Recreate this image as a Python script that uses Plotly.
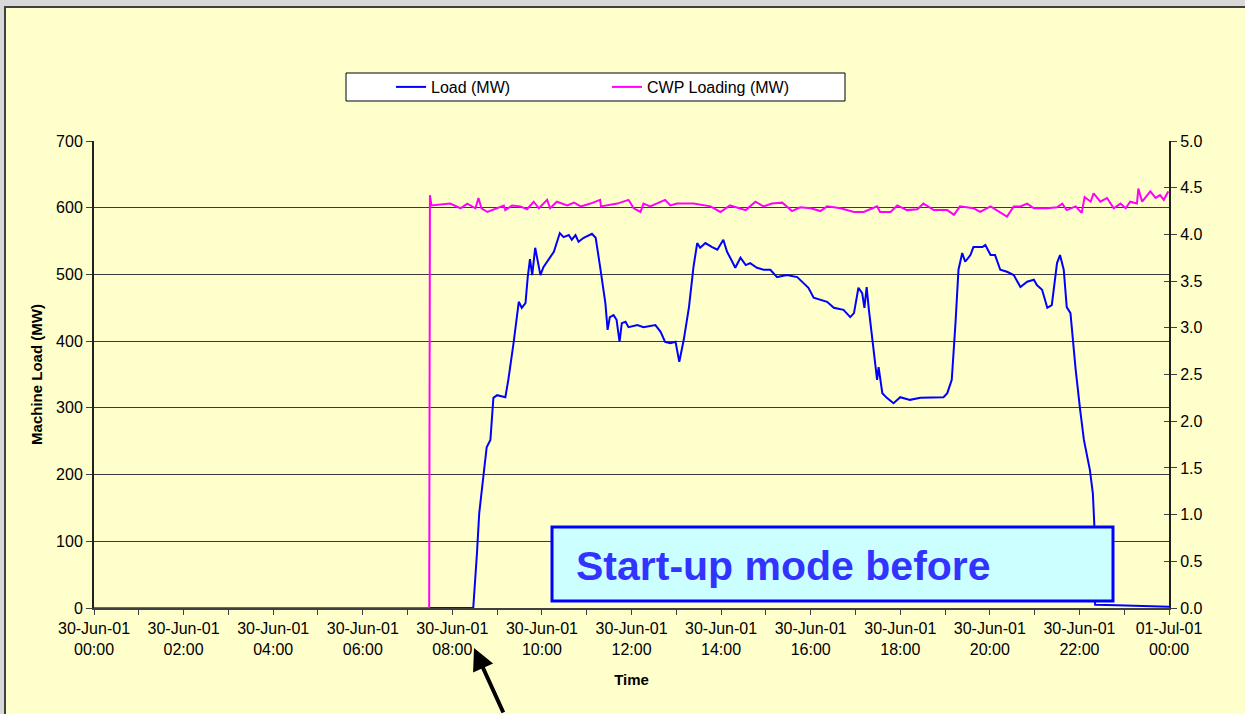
import pandas as pd
import plotly.graph_objects as go

# ---------------- data ----------------
LOAD_TIMES = [
    "00:00", "08:28", "08:33", "08:36", "08:46", "08:51", "08:55", "09:00", "09:11", "09:15",
    "09:22", "09:29", "09:33", "09:38", "09:41", "09:44", "09:47", "09:51", "09:58", "10:02",
    "10:16", "10:24", "10:29", "10:36", "10:40", "10:45", "10:49", "10:56", "11:07", "11:12",
    "11:18", "11:25", "11:28", "11:31", "11:36", "11:40", "11:44", "11:47", "11:52", "11:56",
    "12:08", "12:16", "12:32", "12:39", "12:45", "12:52", "12:59", "13:04", "13:10", "13:17",
    "13:23", "13:28", "13:32", "13:39", "13:48", "13:55", "14:03", "14:08", "14:15", "14:19",
    "14:26", "14:33", "14:39", "14:48", "14:57", "15:06", "15:15", "15:28", "15:42", "15:51",
    "15:57", "16:04", "16:13", "16:22", "16:31", "16:44", "16:53", "16:58", "17:04", "17:09",
    "17:12", "17:15", "17:18", "17:22", "17:27", "17:29", "17:31", "17:36", "17:42", "17:51",
    "18:00", "18:13", "18:27", "18:45", "18:58", "19:03", "19:09", "19:14", "19:18", "19:23",
    "19:27", "19:34", "19:38", "19:50", "19:54", "20:01", "20:07", "20:14", "20:23", "20:32",
    "20:41", "20:50", "20:59", "21:03", "21:10", "21:17", "21:23", "21:30", "21:34", "21:39",
    "21:43", "21:48", "21:55", "22:01", "22:06", "22:14", "22:18", "22:20", "22:21", "22:50",
    "23:22", "23:55", "24:00",
]
LOAD_MW = [
    0, 0, 82, 142, 241, 252, 315, 319, 316, 342,
    397, 459, 450, 457, 496, 523, 499, 540, 499, 511,
    534, 562, 556, 559, 552, 559, 549, 555, 561, 555,
    511, 457, 417, 436, 439, 432, 399, 427, 429, 421,
    424, 421, 424, 414, 399, 397, 399, 369, 402, 451,
    511, 547, 540, 547, 541, 537, 552, 534, 519, 510,
    525, 514, 517, 510, 507, 507, 496, 499, 496, 487,
    480, 465, 462, 459, 450, 447, 436, 442, 480, 472,
    450, 481, 447, 406, 361, 342, 361, 322, 315, 307,
    316, 312, 315, 315, 316, 322, 342, 427, 507, 532,
    519, 529, 541, 541, 544, 529, 529, 507, 504, 499,
    481, 489, 492, 484, 477, 450, 454, 517, 529, 507,
    451, 442, 357, 297, 252, 207, 172, 124, 5, 4,
    3, 2, 2,
]

CWP_TIMES = [
    "00:00", "07:29", "07:30", "07:32", "07:57", "08:11", "08:20", "08:31", "08:35", "08:39",
    "08:47", "09:00", "09:09", "09:11", "09:20", "09:31", "09:40", "09:49", "09:56", "10:07",
    "10:11", "10:20", "10:34", "10:43", "10:52", "11:05", "11:18", "11:19", "11:41", "11:56",
    "12:03", "12:12", "12:16", "12:25", "12:34", "12:45", "12:52", "13:01", "13:23", "13:46",
    "13:59", "14:12", "14:33", "14:46", "14:57", "15:08", "15:22", "15:35", "15:46", "16:00",
    "16:13", "16:22", "16:40", "16:58", "17:11", "17:29", "17:33", "17:47", "17:56", "18:09",
    "18:23", "18:31", "18:45", "19:03", "19:12", "19:20", "19:38", "19:47", "20:01", "20:14",
    "20:23", "20:32", "20:41", "20:50", "20:59", "21:17", "21:30", "21:37", "21:43", "21:55",
    "22:03", "22:07", "22:15", "22:19", "22:28", "22:37", "22:46", "22:55", "23:02", "23:08",
    "23:17", "23:19", "23:24", "23:35", "23:42", "23:48", "23:53", "23:59",
]
CWP_MW = [
    0.0, 0.0, 4.42, 4.31, 4.33, 4.28, 4.33, 4.28, 4.39, 4.28,
    4.24, 4.28, 4.31, 4.26, 4.31, 4.30, 4.27, 4.35, 4.28, 4.37,
    4.28, 4.35, 4.31, 4.34, 4.30, 4.33, 4.37, 4.30, 4.33, 4.37,
    4.28, 4.24, 4.33, 4.30, 4.33, 4.37, 4.31, 4.33, 4.33, 4.30,
    4.24, 4.31, 4.26, 4.35, 4.30, 4.33, 4.34, 4.25, 4.29, 4.28,
    4.25, 4.30, 4.28, 4.24, 4.24, 4.30, 4.24, 4.24, 4.31, 4.26,
    4.27, 4.33, 4.26, 4.26, 4.21, 4.30, 4.28, 4.24, 4.30, 4.24,
    4.19, 4.30, 4.30, 4.33, 4.28, 4.28, 4.29, 4.33, 4.26, 4.30,
    4.23, 4.40, 4.35, 4.44, 4.35, 4.39, 4.28, 4.33, 4.28, 4.35,
    4.33, 4.49, 4.35, 4.46, 4.39, 4.42, 4.37, 4.46,
]

X_TICK_VALUES = [
    "2001-06-30 00:00", "2001-06-30 02:00", "2001-06-30 04:00", "2001-06-30 06:00",
    "2001-06-30 08:00", "2001-06-30 10:00", "2001-06-30 12:00", "2001-06-30 14:00",
    "2001-06-30 16:00", "2001-06-30 18:00", "2001-06-30 20:00", "2001-06-30 22:00",
    "2001-07-01 00:00",
]
X_TICK_LABELS = [
    "30-Jun-01<br>00:00", "30-Jun-01<br>02:00", "30-Jun-01<br>04:00", "30-Jun-01<br>06:00",
    "30-Jun-01<br>08:00", "30-Jun-01<br>10:00", "30-Jun-01<br>12:00", "30-Jun-01<br>14:00",
    "30-Jun-01<br>16:00", "30-Jun-01<br>18:00", "30-Jun-01<br>20:00", "30-Jun-01<br>22:00",
    "01-Jul-01<br>00:00",
]

DAY_START = pd.Timestamp("2001-06-30")


def to_time(hhmm):
    h, m = hhmm.split(":")
    return DAY_START + pd.Timedelta(hours=int(h), minutes=int(m))


load_x = [to_time(t) for t in LOAD_TIMES]
cwp_x = [to_time(t) for t in CWP_TIMES]

# ---------------- layout helpers (pixel -> paper) ----------------
W, H = 1245, 714
ML, MR, MT, MB = 94, 76, 141, 106
PL, PR, PT, PB = ML, W - MR, MT, H - MB


def px(x):
    return (x - PL) / (PR - PL)


def py(y):
    return (PB - y) / (PB - PT)


FONT = "Arial, 'Liberation Sans', sans-serif"

fig = go.Figure()
fig.add_trace(go.Scatter(
    x=load_x, y=LOAD_MW, name="Load (MW)", mode="lines",
    line=dict(color="#0000FF", width=2), yaxis="y",
))
fig.add_trace(go.Scatter(
    x=cwp_x, y=CWP_MW, name="CWP Loading (MW)", mode="lines",
    line=dict(color="#FF00FF", width=2), yaxis="y2",
))
# helper trace so the inner tick marks of the right axis are drawn
fig.add_trace(go.Scatter(x=[], y=[], yaxis="y3", showlegend=False, hoverinfo="skip"))

fig.update_layout(
    width=W, height=H,
    margin=dict(l=ML, r=MR, t=MT, b=MB, autoexpand=False),
    paper_bgcolor="#D8D8D8",
    plot_bgcolor="rgba(0,0,0,0)",
    font=dict(family=FONT, size=16, color="#000000"),
    showlegend=True,
    legend=dict(
        orientation="h", x=px(391), xanchor="left", y=py(87), yanchor="middle",
        bgcolor="rgba(0,0,0,0)", borderwidth=0, font=dict(size=16),
        entrywidth=171, entrywidthmode="pixels", itemwidth=30,
    ),
    xaxis=dict(
        type="date",
        range=[X_TICK_VALUES[0], X_TICK_VALUES[-1]],
        tickmode="array", tickvals=X_TICK_VALUES, ticktext=X_TICK_LABELS,
        ticks="outside", ticklen=5, tickwidth=1, tickcolor="#404040",
        minor=dict(tickmode="linear", tick0="2001-06-30", dtick=3600000,
                   ticks="outside", ticklen=5, tickcolor="#404040", showgrid=False),
        showline=True, linecolor="#404040", linewidth=2,
        showgrid=False, zeroline=False,
        title=dict(text="<b>Time</b>", font=dict(size=15), standoff=17),
        tickfont=dict(size=16),
    ),
    yaxis=dict(
        range=[0, 700], dtick=100, tick0=0,
        ticks="outside", ticklen=6, tickcolor="#404040",
        showline=True, linecolor="#202020", linewidth=2,
        showgrid=True, gridcolor="#3A3A3A", gridwidth=1,
        zeroline=False,
        title=dict(text="<b>Machine Load (MW)</b>", font=dict(size=15), standoff=10),
        tickfont=dict(size=16),
    ),
    yaxis2=dict(
        range=[0, 5], dtick=0.5, tick0=0, tickformat=".1f",
        overlaying="y", side="right", anchor="x",
        ticks="outside", ticklen=6, tickcolor="#404040",
        showline=True, linecolor="#202020", linewidth=2,
        showgrid=False, zeroline=False, tickfont=dict(size=16),
    ),
    yaxis3=dict(
        range=[0, 5], dtick=0.5, tick0=0,
        overlaying="y", side="right", anchor="x",
        ticks="inside", ticklen=5, tickcolor="#404040",
        showticklabels=False, showline=False, showgrid=False, zeroline=False,
    ),
)

shapes = [
    # chart area (yellow with dark frame)
    dict(type="rect", xref="paper", yref="paper", layer="below",
         x0=px(5), x1=px(1252), y0=py(7), y1=py(730),
         fillcolor="#FFFFCC", line=dict(color="#404040", width=2)),
    # legend box
    dict(type="rect", xref="paper", yref="paper", layer="above",
         x0=px(346), x1=px(845), y0=py(73), y1=py(101),
         fillcolor="#FFFFFF", line=dict(color="#000000", width=1)),
    # start-up text box
    dict(type="rect", xref="paper", yref="paper", layer="above",
         x0=px(552), x1=px(1113), y0=py(527), y1=py(601),
         fillcolor="#CCFFFF", line=dict(color="#0000FF", width=3)),
]
fig.update_layout(shapes=shapes)

fig.add_annotation(
    x=px(574), y=py(566), xref="paper", yref="paper",
    xanchor="left", yanchor="middle", showarrow=False,
    text="<b>Start-up mode before</b>",
    font=dict(family=FONT, size=41, color="#3333FF"),
)
fig.add_annotation(
    x=px(474), y=py(648), xref="paper", yref="paper",
    ax=30, ay=84, axref="pixel", ayref="pixel",
    text="", showarrow=True, arrowhead=2, arrowsize=1.1, arrowwidth=4,
    arrowcolor="#000000",
)

fig.write_html(
    "out.html",
    config={"displayModeBar": False},
    post_script="document.body.style.margin='0';document.body.style.overflow='hidden';",
)
